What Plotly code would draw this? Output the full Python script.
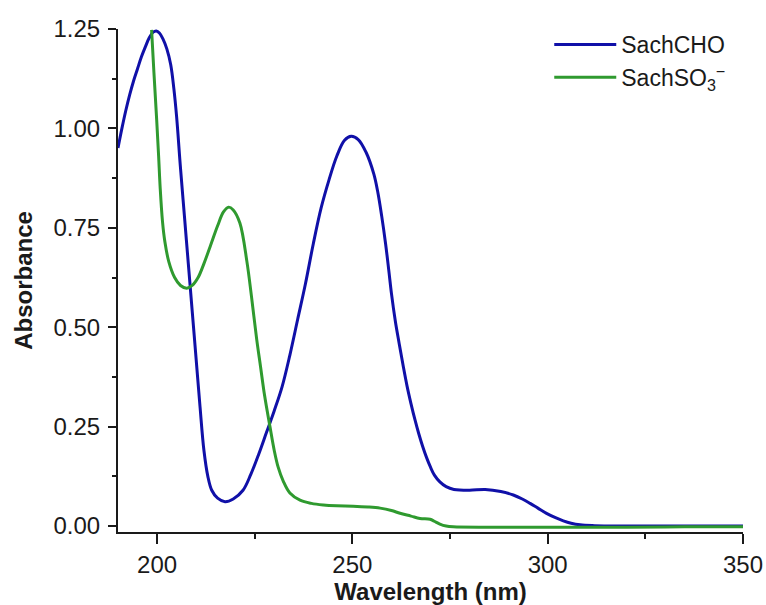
import plotly.graph_objects as go

# SachCHO (blue)
cho_nm = [190, 191, 192, 193, 194, 195, 196, 197, 198, 199, 199.8, 200.6, 201.5, 202.5, 203.5, 204.3,
          205, 206, 207, 208, 209, 210, 211, 212, 213, 214, 215.5, 217.4, 219.5, 222, 224, 226,
          228, 230, 232, 234, 236, 238, 240, 242, 244, 246, 248, 249.7, 251.5, 253.5, 255.5, 256.5,
          257.5, 258.5, 259.3, 260, 261, 262, 263, 264, 265, 266, 267, 268, 269, 270, 271, 272.4,
          274, 276, 280, 284, 288, 291.2, 293.5, 295.5, 297.5, 299.7, 302, 304, 306, 308.3, 312,
          318, 325, 335, 350]
cho_abs = [0.951, 1.0, 1.045, 1.085, 1.12, 1.15, 1.18, 1.205, 1.228, 1.242, 1.245, 1.24, 1.225, 1.2, 1.16, 1.10,
           1.03, 0.90, 0.78, 0.66, 0.54, 0.42, 0.30, 0.19, 0.125, 0.09, 0.07, 0.061, 0.068, 0.09, 0.13, 0.18,
           0.235, 0.29, 0.35, 0.43, 0.52, 0.61, 0.71, 0.80, 0.87, 0.93, 0.97, 0.98, 0.972, 0.94, 0.885, 0.84,
           0.78, 0.71, 0.645, 0.585, 0.515, 0.458, 0.403, 0.352, 0.308, 0.268, 0.232, 0.2, 0.172, 0.148, 0.128, 0.111,
           0.099, 0.092, 0.09, 0.092, 0.087, 0.078, 0.068, 0.057, 0.045, 0.032, 0.021, 0.013, 0.007, 0.003, 0.001,
           0.0, 0.0, 0.0, 0.0]

# SachSO3- (green)
so3_nm = [198.6, 199.2, 199.9, 200.4, 200.8, 201.4, 202, 203, 204.5, 206, 207.6, 209, 210.5, 212, 213.6,
          215.5, 217, 218.3, 219.5, 221.2, 223, 224.2, 225.5, 226.5, 227.5, 228.9, 230, 231, 232.3, 234,
          236.6, 239.5, 242.6, 246, 250.2, 254, 257.1, 260, 262.2, 265, 267.3, 269.9, 271, 272.4,
          274, 275.8, 285, 300, 320, 335, 350]
so3_abs = [1.248, 1.14, 1.022, 0.93, 0.85, 0.765, 0.715, 0.665, 0.625, 0.605, 0.598, 0.605, 0.625, 0.66, 0.703,
           0.755, 0.79, 0.802, 0.795, 0.762, 0.665, 0.575, 0.47, 0.40, 0.33, 0.25, 0.19, 0.148, 0.113, 0.083,
           0.065, 0.057, 0.053, 0.051, 0.05, 0.048, 0.045, 0.039, 0.032, 0.025, 0.019, 0.017, 0.012, 0.005,
           0.0, -0.002, -0.003, -0.003, -0.003, -0.002, -0.002]

x_ticks = [200, 250, 300, 350]
y_ticks = [0.0, 0.25, 0.5, 0.75, 1.0, 1.25]

BLUE = "#1010a8"
GREEN = "#2f9a2f"
INK = "#1a1a1a"
FONT = "Liberation Sans, Arial, sans-serif"

fig = go.Figure()
fig.add_trace(go.Scatter(x=cho_nm, y=cho_abs, mode="lines", name="SachCHO",
                         line=dict(color=BLUE, width=3, shape="spline", smoothing=1.0)))
fig.add_trace(go.Scatter(x=so3_nm, y=so3_abs, mode="lines", name="SachSO<sub>3</sub><sup>−</sup>",
                         line=dict(color=GREEN, width=3, shape="spline", smoothing=1.0)))

axis_common = dict(showgrid=False, zeroline=False, showline=True, linecolor=INK, linewidth=2,
                   ticks="outside", tickcolor=INK, tickwidth=2, automargin=False,
                   tickfont=dict(family=FONT, size=24, color=INK))

fig.update_xaxes(range=[190, 350], tickvals=x_ticks, ticklen=10,
                 minor=dict(ticks="outside", dtick=25, tick0=200, ticklen=5, tickwidth=2, tickcolor=INK),
                 title=dict(text="<b>Wavelength (nm)</b>", font=dict(family=FONT, size=24, color=INK),
                            standoff=2),
                 **axis_common)
fig.update_yaxes(range=[-0.015, 1.25], tickvals=y_ticks, tickformat=".2f", ticklen=8,
                 ticklabelstandoff=3,
                 minor=dict(ticks="outside", dtick=0.125, tick0=0, ticklen=4, tickwidth=2, tickcolor=INK),
                 title=dict(text="<b>Absorbance</b>", font=dict(family=FONT, size=24, color=INK),
                            standoff=14),
                 **axis_common)

fig.update_layout(
    width=766, height=605,
    margin=dict(l=118, r=23, t=29, b=73),
    plot_bgcolor="white", paper_bgcolor="white",
    showlegend=True,
    legend=dict(x=0.69, y=1.012, xanchor="left", yanchor="top", bgcolor="rgba(0,0,0,0)",
                font=dict(family=FONT, size=23, color=INK), itemwidth=62,
                tracegroupgap=0),
)

fig.write_html("out.html", config={"displayModeBar": False},
               post_script="document.body.style.margin='0px';document.body.style.overflow='hidden';")
